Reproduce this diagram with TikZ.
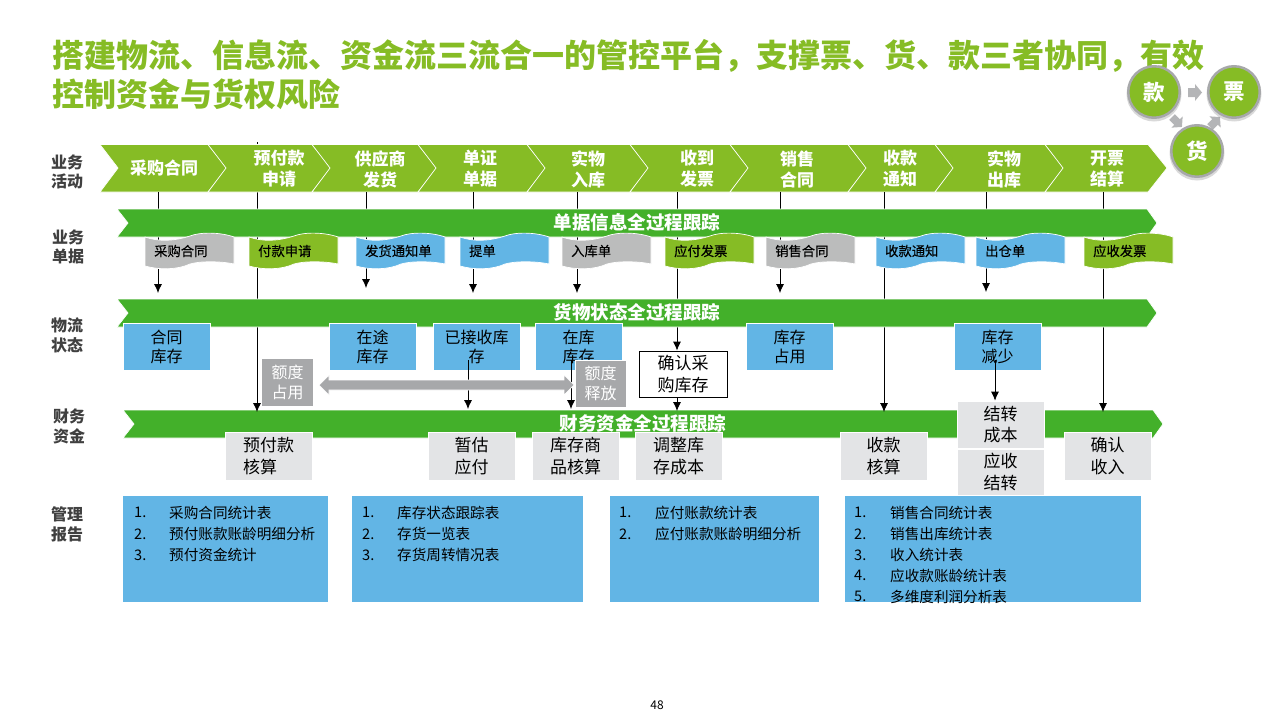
\documentclass[tikz,border=0pt]{standalone}
\usepackage{fontspec}
\setmainfont{Noto Sans CJK SC}
\newfontfamily\medf[FakeBold=0.3]{Noto Sans CJK SC}
\usetikzlibrary{arrows.meta}
\definecolor{lime}{HTML}{86BC25}
\definecolor{grn}{HTML}{43B02A}
\definecolor{sky}{HTML}{62B5E5}
\definecolor{silv}{HTML}{BBBCBC}
\definecolor{mgray}{HTML}{A7A8AA}
\definecolor{lgray}{HTML}{E3E4E6}
\definecolor{dark}{HTML}{404040}
\tikzset{
  x=1pt,y=-1pt,
  shapeedge/.style={draw=white,line width=0.7pt},
  conn/.style={draw=black,line width=0.8pt,-{Latex[length=9pt,width=8pt]}},
  rowlabel/.style={text=dark,font=\fontsize{16}{19.5}\selectfont\bfseries,align=center,inner sep=0pt},
  chevtext/.style={text=white,font=\fontsize{17}{21}\selectfont\bfseries,align=center,inner sep=0pt},
  bartext/.style={text=white,font=\fontsize{18.5}{22}\selectfont\bfseries,inner sep=0pt},
  doctext/.style={text=black,font=\fontsize{13.3}{15}\selectfont\medf,anchor=west,inner sep=0pt},
  boxtext/.style={font=\fontsize{17}{21.5}\selectfont,align=center,inner sep=0pt,text=black},
  statetext/.style={font=\fontsize{16}{19}\selectfont},
  quotatext/.style={font=\fontsize{16}{20}\selectfont,text=white},
  reptext/.style={font=\fontsize{14.6}{17}\selectfont,anchor=west,inner sep=0pt,text=black},
  ball/.style={circle,minimum size=51.5pt,inner sep=0pt,fill=lime,draw=mgray,line width=2.5pt,text=white,font=\fontsize{21.5}{24}\selectfont\bfseries},
  flowarrow/.style={fill=mgray!85},
}
% name, x1, y1, x2, y2, fill, text
\newcommand{\bx}[7]{\node[boxtext,fill=#6,shapeedge,minimum width={#4-#2},minimum height={#5-#3}] (#1) at ({(#2+#4)/2},{(#3+#5)/2}) {#7};}
\newcommand{\chev}[2]{\path[fill=lime,shapeedge] (#1,144.5) -- (#2,144.5) -- ({#2+19},168) -- (#2,192) -- (#1,192) -- ({#1+18},168) -- cycle;}
\newcommand{\barr}[4]{\path[fill=grn,shapeedge] (#1,#3) -- (#2,#3) -- (#4,{#3+14}) -- (#2,{#3+28}) -- (#1,{#3+28}) -- ({#1+11},{#3+14}) -- cycle;}
\newcommand{\docu}[4]{\path[fill=#3,shapeedge] (#2,237) .. controls ({#2+14},242) and ({#2+30},241) .. ({#2+45},236) .. controls ({#2+55},232) and ({#2+75},232) .. ({#2+89},237) -- ({#2+89},264) .. controls ({#2+75},261) and ({#2+55},261) .. ({#2+45},264) .. controls ({#2+32},270) and ({#2+14},270) .. (#2,266) -- cycle;
\node[doctext] (#1) at ({#2+9},251) {#4};}
\newcommand{\rep}[6]{\node[reptext] (#1n) at (#2,#4+0.8) {#5.}; \node[reptext] (#1t) at (#3,#4+0.8) {#6};}
\begin{document}
\begin{tikzpicture}
\useasboundingbox (0,0) rectangle (1280,720);
% title
\node[anchor=west,inner sep=0pt,text=lime,font=\fontsize{32}{39}\selectfont\bfseries,align=left] (title) at (52,75) {搭建物流、信息流、资金流三流合一的管控平台，支撑票、货、款三者协同，有效\\控制资金与货权风险};
% small flow arrows
\path[flowarrow] (1188,88) -- (1195,88) -- (1195,84) -- (1202,92.5) -- (1195,101) -- (1195,97) -- (1188,97) -- cycle;
\begin{scope}[shift={(1177,122)},rotate=-45]
\path[flowarrow] (-7,-4) -- (0,-4) -- (0,-8) -- (7,0) -- (0,8) -- (0,4) -- (-7,4) -- cycle;
\end{scope}
\begin{scope}[shift={(1215,122)},rotate=45]
\path[flowarrow] (-7,-4) -- (0,-4) -- (0,-8) -- (7,0) -- (0,8) -- (0,4) -- (-7,4) -- cycle;
\end{scope}
% ball shadows & balls
\foreach \cx/\cy in {1154/92,1234/92,1197/151}{\path[fill=black,opacity=0.15] (\cx,\cy+2) circle[radius=27.5];}
\node[ball] (kuan) at (1154,92) {款};
\node[ball] (piao) at (1234,92) {票};
\node[ball] (huo) at (1197,151) {货};
% row labels
\node[rowlabel] (l1) at (67,172) {业务\\活动};
\node[rowlabel] (l2) at (68,247) {业务\\单据};
\node[rowlabel] (l3) at (67,335.5) {物流\\状态};
\node[rowlabel] (l4) at (69,426.5) {财务\\资金};
\node[rowlabel] (l5) at (67,524.5) {管理\\报告};
% finance bar and the connector that starts behind the chevrons
\barr{123}{1153}{410}{1163}
\coordinate (b0) at (257,142);
\coordinate (b1) at (257,412);
\draw[conn] (b0) -- (b1);
% process chevrons
\chev{100}{208}\chev{208}{312}\chev{312}{418}\chev{418}{527}\chev{527}{630}
\chev{630}{730}\chev{730}{848}\chev{848}{935}\chev{935}{1045}\chev{1045}{1148}
\node[chevtext] (c1) at (164,168) {采购合同};
\node[chevtext] (c2) at (279,169) {预付款\\申请};
\node[chevtext] (c3) at (380,169) {供应商\\发货};
\node[chevtext] (c4) at (480,169) {单证\\单据};
\node[chevtext] (c5) at (588,169) {实物\\入库};
\node[chevtext] (c6) at (697,169) {收到\\发票};
\node[chevtext] (c7) at (797,169) {销售\\合同};
\node[chevtext] (c8) at (900,169) {收款\\通知};
\node[chevtext] (c9) at (1004,169) {实物\\出库};
\node[chevtext] (c10) at (1107,169) {开票\\结算};
% connector end points
\foreach \n/\px in {a/158,c/366,d/473,e/577,f/677,g/780,h/884,i/986,j/1103}{\coordinate (\n0) at (\px,192);}
\coordinate (a1) at (158,293);
\coordinate (c1e) at (366,288);
\coordinate (d1) at (473,293);
\coordinate (e1) at (577,293);
\coordinate (g1) at (780,293);
\coordinate (h1) at (884,412);
\coordinate (i1) at (986,292);
\coordinate (j1) at (1103,412);
\draw[conn] (a0) -- (a1);
\draw[conn] (c0) -- (c1e);
\draw[conn] (d0) -- (d1);
\draw[conn] (e0) -- (e1);
\draw[conn] (g0) -- (g1);
\draw[conn] (h0) -- (h1);
\draw[conn] (i0) -- (i1);
\draw[conn] (j0) -- (j1);
% confirmation box
\node[boxtext,draw=black,fill=white,line width=0.8pt,minimum width=88pt,minimum height=46pt] (conf) at (683,374) {确认采\\购库存};
\draw[conn] (f0) -- (conf.north -| f0);
\coordinate (f2) at (677,411);
\draw[conn] (conf.south -| f0) -- (f2);
% tracking bars
\barr{117}{1147}{209}{1157}
\barr{117}{1147}{299}{1157}
\node[bartext] (b1t) at (637,222.5) {单据信息全过程跟踪};
\node[bartext] (b2t) at (637,312.5) {货物状态全过程跟踪};
\node[bartext] (b3t) at (643,423.5) {财务资金全过程跟踪};
% documents
\docu{d1n}{145}{silv}{采购合同}
\docu{d2n}{249}{lime}{付款申请}
\docu{d3n}{356}{sky}{发货通知单}
\docu{d4n}{460}{sky}{提单}
\docu{d5n}{562}{silv}{入库单}
\docu{d6n}{665}{lime}{应付发票}
\docu{d7n}{766}{silv}{销售合同}
\docu{d8n}{876}{sky}{收款通知}
\docu{d9n}{976}{sky}{出仓单}
\docu{d10n}{1084}{lime}{应收发票}
% inventory states
\bx{s1}{123}{323}{210}{370}{sky,statetext}{合同\\库存}
\bx{s2}{329}{323}{416}{370}{sky,statetext}{在途\\库存}
\bx{s3}{433}{323}{520}{370}{sky,statetext}{已接收库\\存}
\bx{s4}{535}{323}{622}{370}{sky,statetext}{在库\\库存}
\bx{s5}{746}{323}{833}{370}{sky,statetext}{库存\\占用}
\bx{s6}{954}{323}{1041}{370}{sky,statetext}{库存\\减少}
% connectors out of inventory states
\coordinate (m0) at (468,360);
\coordinate (m1) at (468,409);
\coordinate (n0) at (571,360);
\coordinate (n1) at (571,409);
\coordinate (o0) at (995,360);
\draw[conn] (m0) -- (m1);
\draw[conn] (n0) -- (n1);
% quota
\path[fill=mgray,draw=white,line width=0.7pt] (319,385) -- (329,375) -- (329,380) -- (564,380) -- (564,375) -- (574,385) -- (564,395) -- (564,390) -- (329,390) -- (329,395) -- cycle;
\node[boxtext,fill=mgray,quotatext,minimum width=51pt,minimum height=47pt] (q1) at (287.5,382.5) {额度\\占用};
\node[boxtext,fill=mgray,quotatext,minimum width=51pt,minimum height=47pt,shapeedge] (q2) at (600.5,383.5) {额度\\释放};
% finance boxes
\bx{f1}{225}{432}{312}{480}{lgray}{预付款\\\hspace*{-17pt}核算}
\bx{f2b}{428}{432}{515}{480}{lgray}{暂估\\应付}
\bx{f3}{532}{432}{619}{480}{lgray}{库存商\\品核算}
\bx{f4}{635}{432}{722}{480}{lgray}{调整库\\存成本}
\bx{f5}{840}{432}{927}{480}{lgray}{收款\\核算}
\bx{f6}{957}{401}{1044}{448}{lgray}{结转\\成本}
\bx{f7}{957}{449}{1044}{495}{lgray}{应收\\结转}
\bx{f8}{1064}{432}{1151}{480}{lgray}{确认\\收入}
\draw[conn] (o0) -- (f6.north -| o0);
% reports
\path[fill=sky] (123,496) rectangle (328,602);
\path[fill=sky] (352,496) rectangle (583,602);
\path[fill=sky] (610,496) rectangle (819,602);
\path[fill=sky] (845,496) rectangle (1141,602);
\rep{ra}{134}{169}{512}{1}{采购合同统计表}
\rep{rb}{134}{169}{533}{2}{预付账款账龄明细分析}
\rep{rc}{134}{169}{554}{3}{预付资金统计}
\rep{rd}{362}{397}{512}{1}{库存状态跟踪表}
\rep{re}{362}{397}{533}{2}{存货一览表}
\rep{rf}{362}{397}{554}{3}{存货周转情况表}
\rep{rg}{619}{655}{512}{1}{应付账款统计表}
\rep{rh}{619}{655}{533}{2}{应付账款账龄明细分析}
\rep{ri}{854}{890}{512}{1}{销售合同统计表}
\rep{rj}{854}{890}{533}{2}{销售出库统计表}
\rep{rk}{854}{890}{554}{3}{收入统计表}
\rep{rl}{854}{890}{575}{4}{应收款账龄统计表}
\rep{rm}{854}{890}{596}{5}{多维度利润分析表}
\node[inner sep=0pt,font=\fontsize{12}{14}\selectfont,text=black] (pg) at (657,705) {48};
\end{tikzpicture}
\end{document}
